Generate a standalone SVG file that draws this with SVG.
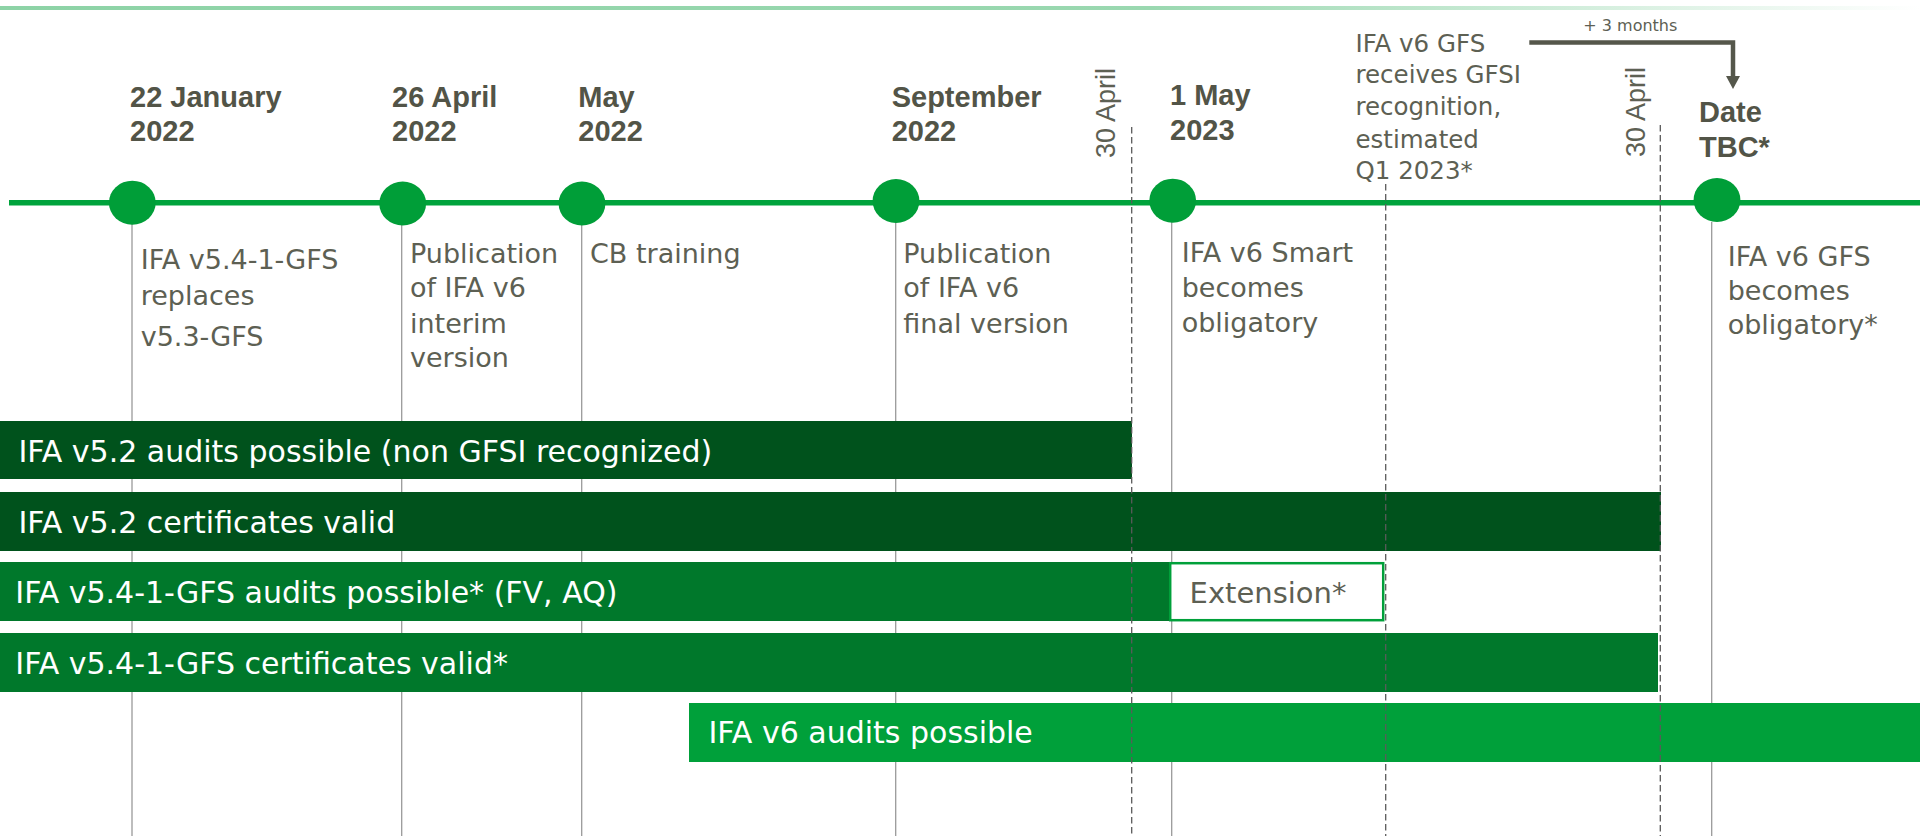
<svg xmlns="http://www.w3.org/2000/svg" width="1920" height="836" viewBox="0 0 1920 836">
  <style>
    .title { font-family: "Liberation Sans", Arial, sans-serif; font-weight: bold; font-size: 29px; fill: #525447; }
    .body { font-family: "DejaVu Sans", sans-serif; font-size: 27px; fill: #5d6053; }
    .note { font-family: "DejaVu Sans", sans-serif; font-size: 24.5px; fill: #5d6053; }
    .bartext { font-family: "DejaVu Sans", sans-serif; font-size: 30px; fill: #ffffff; }
    .rot { font-family: "Liberation Sans", Arial, sans-serif; font-size: 27px; fill: #5d6053; }
    .small { font-family: "DejaVu Sans", sans-serif; font-size: 16px; fill: #5d6053; }
    .dot { fill: #009e38; }
    .stem { stroke: #9a9a9a; stroke-width: 1.3; fill: none; }
    .dash { stroke: #5a5a5a; stroke-width: 1.3; stroke-dasharray: 6.5 3.5; fill: none; }
    .dark { fill: #00521c; }
    .mid { fill: #00782b; }
    .light { fill: #00a03a; }
  </style>
  <defs>
    <linearGradient id="topfade" x1="0" y1="0" x2="1920" y2="0" gradientUnits="userSpaceOnUse">
      <stop offset="0" stop-color="#8dd3a6"/>
      <stop offset="0.6" stop-color="#9ad8b0"/>
      <stop offset="1" stop-color="#ffffff"/>
    </linearGradient>
    <marker id="arrowhead" viewBox="0 0 13 14" refX="1" refY="7" markerWidth="13" markerHeight="14" markerUnits="userSpaceOnUse" orient="auto">
      <path d="M0,0 L13,7 L0,14 z" fill="#55574b"/>
    </marker>
  </defs>

  <rect width="1920" height="836" fill="#ffffff"/>

  <!-- top decorative line -->
  <rect x="0" y="6" width="1920" height="4" fill="url(#topfade)"/>

  <!-- vertical stems (behind bars) -->
  <g id="stems">
    <line class="stem" x1="132" y1="222" x2="132" y2="836"/>
    <line class="stem" x1="401.7" y1="222" x2="401.7" y2="836"/>
    <line class="stem" x1="581.7" y1="222" x2="581.7" y2="836"/>
    <line class="stem" x1="895.7" y1="222" x2="895.7" y2="836"/>
    <line class="stem" x1="1171.7" y1="222" x2="1171.7" y2="836"/>
    <line class="stem" x1="1711.7" y1="222" x2="1711.7" y2="836"/>
  </g>

  <!-- timeline axis -->
  <line id="axis" x1="9" y1="202.8" x2="1920" y2="202.8" stroke="#00a33c" stroke-width="5.5"/>

  <!-- bars -->
  <g id="bar-v52-audits">
    <rect class="dark" x="0" y="421" width="1132" height="58"/>
    <text class="bartext" x="18.4" y="461.7">IFA v5.2 audits possible (non GFSI recognized)</text>
  </g>
  <g id="bar-v52-certs">
    <rect class="dark" x="0" y="492" width="1661" height="59"/>
    <text class="bartext" x="18.4" y="532.7">IFA v5.2 certificates valid</text>
  </g>
  <g id="bar-v541-audits">
    <rect class="mid" x="0" y="562" width="1169" height="59"/>
    <text class="bartext" x="15.3" y="602.7">IFA v5.4-1-GFS audits possible* (FV, AQ)</text>
  </g>
  <g id="bar-extension">
    <rect x="1170.2" y="563.2" width="213" height="57" fill="#ffffff" stroke="#00a03a" stroke-width="2.5"/>
    <text class="body" x="1189.6" y="603.3" style="font-size:29px">Extension*</text>
  </g>
  <g id="bar-v541-certs">
    <rect class="mid" x="0" y="633" width="1658" height="59"/>
    <text class="bartext" x="15.3" y="674">IFA v5.4-1-GFS certificates valid*</text>
  </g>
  <g id="bar-v6-audits">
    <rect class="light" x="689" y="703" width="1231" height="59"/>
    <text class="bartext" x="708.5" y="743.3">IFA v6 audits possible</text>
  </g>

  <!-- dashed deadline markers -->
  <g id="deadline-2022">
    <line class="dash" x1="1131.7" y1="127" x2="1131.7" y2="836"/>
    <text class="rot" transform="translate(1115,158) rotate(-90)">30 April</text>
  </g>
  <g id="deadline-gfsi">
    <line class="dash" x1="1385.7" y1="184" x2="1385.7" y2="836"/>
  </g>
  <g id="deadline-2023">
    <line class="dash" x1="1660.3" y1="125" x2="1660.3" y2="836"/>
    <text class="rot" transform="translate(1645,157) rotate(-90)">30 April</text>
  </g>

  <!-- milestones -->
  <g id="m-jan-2022">
    <ellipse class="dot" cx="132.3" cy="202.7" rx="23.4" ry="22"/>
    <text class="title" x="130" y="106.5">22 January</text>
    <text class="title" x="130" y="140.5">2022</text>
    <text class="body" x="140.7" y="269.3">IFA v5.4-1-GFS</text>
    <text class="body" x="140.7" y="305">replaces</text>
    <text class="body" x="140.7" y="346">v5.3-GFS</text>
  </g>
  <g id="m-apr-2022">
    <ellipse class="dot" cx="402.7" cy="203.5" rx="23.4" ry="22"/>
    <text class="title" x="392" y="106.5">26 April</text>
    <text class="title" x="392" y="140.5">2022</text>
    <text class="body" x="410" y="262.7">Publication</text>
    <text class="body" x="410" y="297.3">of IFA v6</text>
    <text class="body" x="410" y="332.7">interim</text>
    <text class="body" x="410" y="367.3">version</text>
  </g>
  <g id="m-may-2022">
    <ellipse class="dot" cx="582" cy="203.5" rx="23.4" ry="22"/>
    <text class="title" x="578.3" y="106.5">May</text>
    <text class="title" x="578.3" y="140.5">2022</text>
    <text class="body" x="590" y="262.7">CB training</text>
  </g>
  <g id="m-sep-2022">
    <ellipse class="dot" cx="896" cy="201" rx="23.4" ry="22"/>
    <text class="title" x="891.7" y="106.5">September</text>
    <text class="title" x="891.7" y="140.5">2022</text>
    <text class="body" x="903.3" y="262.7">Publication</text>
    <text class="body" x="903.3" y="297.3">of IFA v6</text>
    <text class="body" x="903.3" y="332.7">final version</text>
  </g>
  <g id="m-may-2023">
    <ellipse class="dot" cx="1172.7" cy="200.7" rx="23.4" ry="22"/>
    <text class="title" x="1170" y="105">1 May</text>
    <text class="title" x="1170" y="140">2023</text>
    <text class="body" x="1181.7" y="261.7">IFA v6 Smart</text>
    <text class="body" x="1181.7" y="296.7">becomes</text>
    <text class="body" x="1181.7" y="331.7">obligatory</text>
  </g>
  <g id="m-gfsi">
    <text class="note" x="1355.5" y="51.7">IFA v6 GFS</text>
    <text class="note" x="1355.5" y="83">receives GFSI</text>
    <text class="note" x="1355.5" y="115.3">recognition,</text>
    <text class="note" x="1355.5" y="147.5">estimated</text>
    <text class="note" x="1355.5" y="179">Q1 2023*</text>
  </g>
  <g id="m-tbc">
    <ellipse class="dot" cx="1717" cy="200" rx="23.4" ry="22"/>
    <text class="title" x="1699" y="121.7">Date</text>
    <text class="title" x="1699" y="156.7">TBC*</text>
    <text class="body" x="1727.7" y="265.7">IFA v6 GFS</text>
    <text class="body" x="1727.7" y="300">becomes</text>
    <text class="body" x="1727.7" y="334.3">obligatory*</text>
  </g>

  <!-- connectors -->
  <g id="connectors">
    <path d="M1529.3,42.5 H1733 V77" fill="none" stroke="#55574b" stroke-width="4.5" marker-end="url(#arrowhead)"/>
    <text class="small" x="1583.3" y="30.7">+ 3 months</text>
  </g>
</svg>
